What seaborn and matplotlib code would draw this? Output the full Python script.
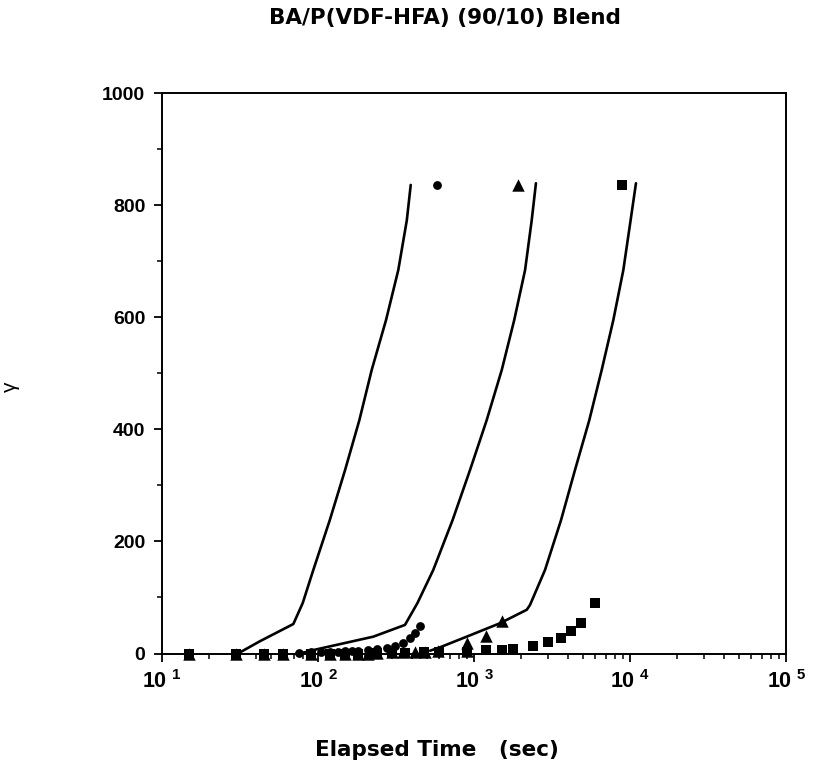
import numpy as np
import pandas as pd
import matplotlib
matplotlib.use("Agg")
import matplotlib.pyplot as plt
import seaborn as sns
from matplotlib.ticker import FixedLocator, NullFormatter

# ---- data ----
title = "BA/P(VDF-HFA) (90/10) Blend"
xlabel = "Elapsed Time   (sec)"
ylabel = "γ"

# model curves
curve1_t = [30.7, 42.5, 69.5, 79.8, 93.3, 119, 149, 184, 221, 273, 327, 371, 393]
curve1_g = [0, 22, 52.6, 90, 149, 238, 327, 416, 506, 595, 684, 773, 836]
curve2_t = [77, 93, 226, 361, 434, 548, 729, 942, 1205, 1507, 1811, 2125, 2344, 2495]
curve2_g = [0, 6, 30, 51, 90, 149, 238, 327, 416, 506, 595, 684, 773, 839]
curve3_t = [523, 605, 897, 1468, 2178, 2285, 2852, 3613, 4436, 5480, 6588, 7820, 9060, 10090, 10920]
curve3_g = [5, 11, 30, 54, 78, 86.5, 149, 238, 327, 416, 506, 595, 684, 773, 839]

# measured points
circ_t = [15, 30, 45, 60, 75, 90, 105, 120, 135, 150, 165, 180, 210, 240, 276, 312, 352, 389, 419, 451, 580]
circ_g = [0, 0, 0, 0, 1, 2, 2, 3, 3, 4, 4, 5, 6, 8, 10, 13, 19, 27, 36, 49, 836]
tri_t = [15, 30, 45, 60, 90, 120, 150, 180, 210, 238, 297, 352, 419, 485, 590, 897, 897, 1194, 1507, 1905]
tri_g = [0, 0, 0, 0, 0, 0, 0, 0, 0, 1, 2, 2, 3, 3, 4, 5, 18, 31, 58, 836]
sq_t = [15, 30, 45, 60, 90, 120, 150, 180, 240, 300, 360, 480, 600, 900, 1194, 1517, 1786, 2378, 2993, 3611, 4188, 4833, 5969, 8935]
sq_g = [0, 0, 0, 0, 0, 0, 0, 0, 1, 1, 1, 2, 2, 3, 6, 6, 7.5, 14, 20.5, 28, 41, 55, 89.5, 836]

yticks = [0, 200, 400, 600, 800, 1000]
xticks = [10, 100, 1000, 10000, 100000]
xtick_labels = [r"$\mathbf{10^{\ 1}}$", r"$\mathbf{10^{\ 2}}$", r"$\mathbf{10^{\ 3}}$",
                r"$\mathbf{10^{\ 4}}$", r"$\mathbf{10^{\ 5}}$"]

# ---- plotting ----
sns.set_style("ticks")
plt.rcParams["font.family"] = ["Liberation Sans", "DejaVu Sans"]
plt.rcParams["mathtext.fontset"] = "custom"
plt.rcParams["mathtext.bf"] = "Liberation Sans:bold"
plt.rcParams["mathtext.rm"] = "Liberation Sans"
for k in ["text.color", "axes.labelcolor", "xtick.color", "ytick.color", "axes.edgecolor"]:
    plt.rcParams[k] = "black"

fig = plt.figure(figsize=(8.13, 7.69), dpi=100)
W, H = 813, 769
left, right, top, bottom = 162, 786, 93, 653.5
ax = fig.add_axes([left / W, 1 - bottom / H, (right - left) / W, (bottom - top) / H])

for t, g in [(curve1_t, curve1_g), (curve2_t, curve2_g), (curve3_t, curve3_g)]:
    sns.lineplot(x=t, y=g, ax=ax, color="black", linewidth=1.9, estimator=None, sort=False)

sns.scatterplot(x=circ_t, y=circ_g, ax=ax, marker="o", color="black", s=40,
                edgecolor="black", linewidth=0, clip_on=False, zorder=5)
sns.scatterplot(x=tri_t, y=tri_g, ax=ax, marker="^", color="black", s=80,
                edgecolor="black", linewidth=0, clip_on=False, zorder=5)
sns.scatterplot(x=sq_t, y=sq_g, ax=ax, marker="s", color="black", s=52,
                edgecolor="black", linewidth=0, clip_on=False, zorder=5)

ax.set_xscale("log")
ax.set_xlim(10, 100000)
ax.set_ylim(0, 1000)
ax.set_xticks(xticks)
ax.set_xticklabels(xtick_labels, fontsize=15.5)
ax.xaxis.set_minor_locator(FixedLocator([m * 10 ** e for e in range(1, 5) for m in range(2, 10)]))
ax.xaxis.set_minor_formatter(NullFormatter())
ax.set_yticks(yticks)
ax.set_yticklabels([str(v) for v in yticks], fontsize=14, fontweight="bold")
ax.yaxis.set_minor_locator(FixedLocator([100, 300, 500, 700, 900]))

ax.tick_params(axis="both", which="major", direction="out", length=6, width=1.3, color="black", pad=6)
ax.tick_params(axis="both", which="minor", direction="out", length=3.5, width=1.1, color="black")
for s in ax.spines.values():
    s.set_visible(True)
    s.set_linewidth(1.4)
    s.set_color("black")

ax.set_xlabel(xlabel, fontsize=15.5, fontweight="bold", family=["DejaVu Sans"], color="black")
ax.xaxis.set_label_coords((437 - left) / (right - left), (bottom - 740) / (bottom - top))
ax.set_ylabel(ylabel, fontsize=15, rotation=90, color="black")
ax.yaxis.set_label_coords((20 - left) / (right - left), (bottom - 387) / (bottom - top))
ax.text((445 - left) / (right - left), (bottom - 18) / (bottom - top), title,
        transform=ax.transAxes, ha="center", va="center", fontsize=15.5,
        fontweight="bold", family=["DejaVu Sans"], color="black")

fig.savefig("out.png", dpi=100)
